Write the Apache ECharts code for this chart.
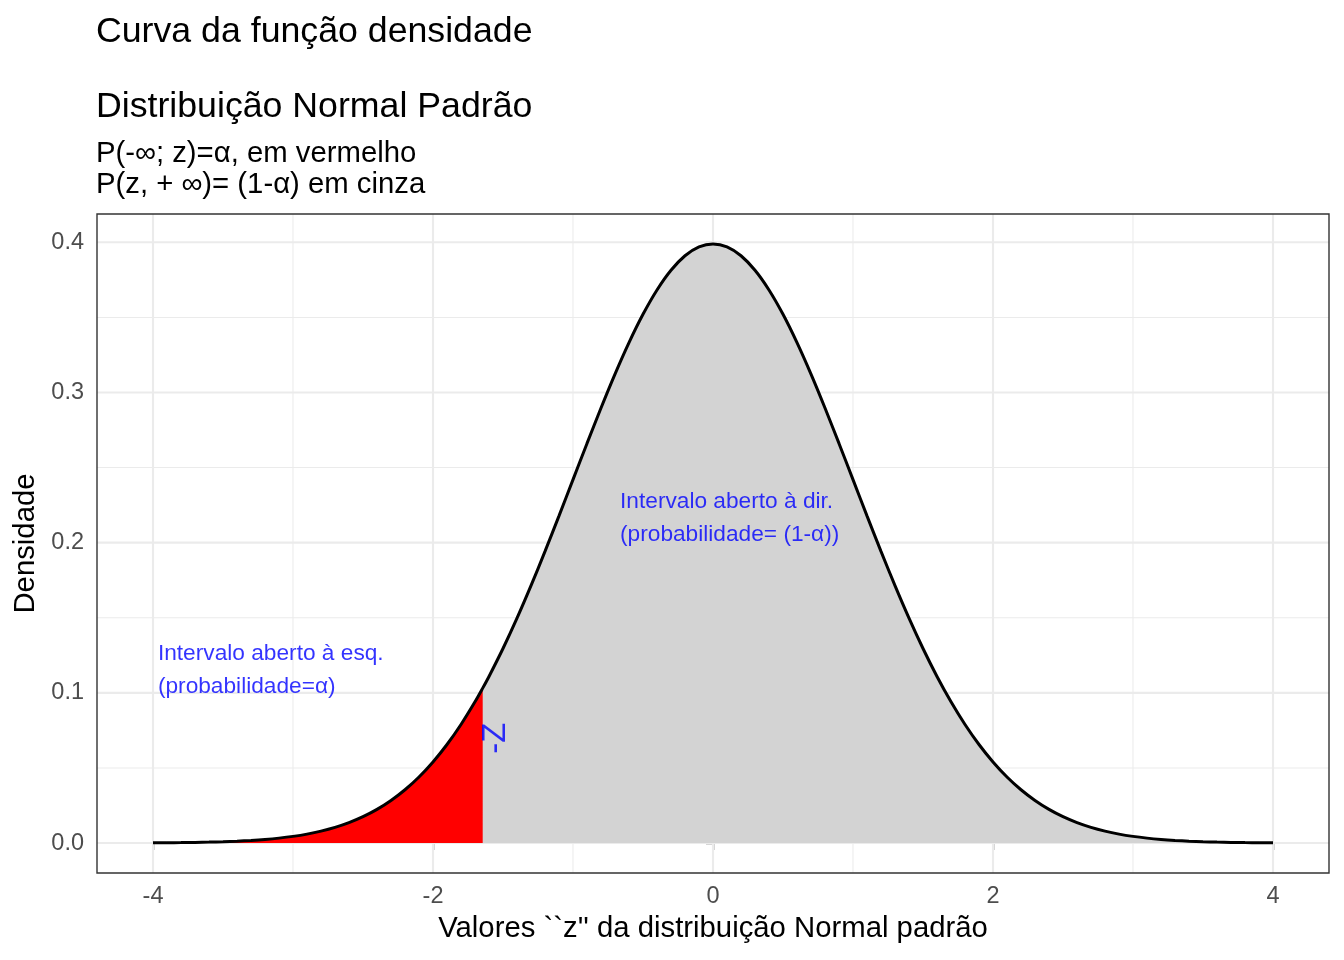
<!DOCTYPE html>
<html>
<head>
<meta charset="utf-8">
<script src="https://cdn.jsdelivr.net/npm/echarts@6/dist/echarts.min.js"></script>
<style>
html,body{margin:0;padding:0;background:#fff;}
#chart{width:1344px;height:960px;}
</style>
</head>
<body>
<div id="chart"></div>
<script>
// z grid (x values) and standard normal density
const zValues = [-4.0,-3.9,-3.8,-3.7,-3.6,-3.5,-3.4,-3.3,-3.2,-3.1,-3.0,-2.9,-2.8,-2.7,-2.6,-2.5,-2.4,-2.3,-2.2,-2.1,-2.0,-1.9,-1.8,-1.7,-1.645,-1.6,-1.5,-1.4,-1.3,-1.2,-1.1,-1.0,-0.9,-0.8,-0.7,-0.6,-0.5,-0.4,-0.3,-0.2,-0.1,0.0,0.1,0.2,0.3,0.4,0.5,0.6,0.7,0.8,0.9,1.0,1.1,1.2,1.3,1.4,1.5,1.6,1.7,1.8,1.9,2.0,2.1,2.2,2.3,2.4,2.5,2.6,2.7,2.8,2.9,3.0,3.1,3.2,3.3,3.4,3.5,3.6,3.7,3.8,3.9,4.0];
const densityValues = [0.00013,0.00020,0.00029,0.00042,0.00061,0.00087,0.00123,0.00172,0.00238,0.00327,0.00443,0.00595,0.00792,0.01042,0.01358,0.01753,0.02239,0.02833,0.03547,0.04398,0.05399,0.06562,0.07895,0.09405,0.10314,0.11092,0.12952,0.14973,0.17137,0.19419,0.21785,0.24197,0.26609,0.28969,0.31225,0.33322,0.35207,0.36827,0.38139,0.39104,0.39695,0.39894,0.39695,0.39104,0.38139,0.36827,0.35207,0.33322,0.31225,0.28969,0.26609,0.24197,0.21785,0.19419,0.17137,0.14973,0.12952,0.11092,0.09405,0.07895,0.06562,0.05399,0.04398,0.03547,0.02833,0.02239,0.01753,0.01358,0.01042,0.00792,0.00595,0.00443,0.00327,0.00238,0.00172,0.00123,0.00087,0.00061,0.00042,0.00029,0.00020,0.00013];
const zCut = -1.645;

const xTickLabels = [-4, -2, 0, 2, 4];
const xMinorBreaks = [-3, -1, 1, 3];
const yTickLabels = [0, 0.1, 0.2, 0.3, 0.4];
const yMinorBreaks = [0.05, 0.15, 0.25, 0.35];

const titleText = 'Curva da função densidade\n\nDistribuição Normal Padrão';
const subtitleText = 'P(-∞; z)=α, em vermelho\nP(z, + ∞)= (1-α) em cinza';
const xAxisTitle = "Valores ``z'' da distribuição Normal padrão";
const yAxisTitle = 'Densidade';

const annotations = [
  { x: -3.965, y: 0.1152, text: 'Intervalo aberto à esq.\n(probabilidade=α)' },
  { x: -0.664, y: 0.2160, text: 'Intervalo aberto à dir.\n(probabilidade= (1-α))' }
];
const cutLabel = { x: -1.55, y: 0.0699, text: '-Z' };

// build tables
const curve = zValues.map((z, i) => [z, densityValues[i]]);
const redArea = curve.filter(p => p[0] <= zCut + 1e-9);

const FONT = '"Liberation Sans", Arial, Helvetica, sans-serif';
const chart = echarts.init(document.getElementById('chart'), null, { renderer: 'canvas' });

const majorLine = { color: '#EBEBEB', width: 2.1, type: 'solid' };
const minorLine = { color: '#EBEBEB', width: 1.05, type: 'solid' };
const Y_MIN = -0.01995, Y_MAX = 0.41885, X_MIN = -4.4, X_MAX = 4.4;

function gridSeries(values, isX, style) {
  return values.map(v => ({
    type: 'line', z: 0, silent: true, showSymbol: false, animation: false,
    data: isX ? [[v, Y_MIN], [v, Y_MAX]] : [[X_MIN, v], [X_MAX, v]],
    lineStyle: style
  }));
}

const option = {
  backgroundColor: '#ffffff',
  animation: false,
  title: {
    text: titleText,
    subtext: subtitleText,
    left: 96,
    top: 13,
    padding: 0,
    itemGap: 12.5,
    textStyle: { fontFamily: FONT, fontSize: 35.7, fontWeight: 'normal', color: '#000', lineHeight: 37.5 },
    subtextStyle: { fontFamily: FONT, fontSize: 29.3, color: '#000', lineHeight: 31.5 }
  },
  grid: {
    left: 97, right: 15, top: 214, bottom: 87,
    show: true, borderColor: '#333333', borderWidth: 1.4, backgroundColor: 'transparent', z: 10
  },
  xAxis: {
    type: 'value', min: X_MIN, max: X_MAX,
    name: xAxisTitle, nameLocation: 'middle', nameGap: 41,
    nameTextStyle: { fontFamily: FONT, fontSize: 29.3, color: '#000' },
    axisLine: { show: false },
    splitLine: { show: false },
    axisTick: { show: true, customValues: xTickLabels, length: 7, lineStyle: { color: '#333333', width: 1.4 } },
    axisLabel: { customValues: xTickLabels, margin: 12, fontFamily: FONT, fontSize: 23.5, color: '#4D4D4D',
      formatter: v => String(v) }
  },
  yAxis: {
    type: 'value', min: Y_MIN, max: Y_MAX,
    name: yAxisTitle, nameLocation: 'middle', nameGap: 56, nameRotate: 90,
    nameTextStyle: { fontFamily: FONT, fontSize: 29.3, color: '#000' },
    axisLine: { show: false },
    splitLine: { show: false },
    axisTick: { show: true, customValues: yTickLabels, length: 7, lineStyle: { color: '#333333', width: 1.4 } },
    axisLabel: { customValues: yTickLabels, margin: 13, fontFamily: FONT, fontSize: 23.5, color: '#4D4D4D',
      formatter: v => v.toFixed(1) }
  },
  series: [
    ...gridSeries(xMinorBreaks, true, minorLine),
    ...gridSeries(yMinorBreaks, false, minorLine),
    ...gridSeries(xTickLabels, true, majorLine),
    ...gridSeries(yTickLabels, false, majorLine),
    {
      type: 'line', data: curve, z: 2, smooth: 0.3, showSymbol: false, silent: true,
      lineStyle: { width: 0 }, areaStyle: { color: '#D3D3D3', opacity: 1 }
    },
    {
      type: 'line', data: redArea, z: 3, smooth: 0.3, showSymbol: false, silent: true,
      lineStyle: { width: 0 }, areaStyle: { color: '#FF0000', opacity: 1 }
    },
    {
      type: 'line', data: curve, z: 4, smooth: 0.3, showSymbol: false, silent: true,
      lineStyle: { color: '#000000', width: 3 }
    },
    {
      type: 'scatter', z: 5, symbolSize: 0, silent: true,
      data: annotations.map(a => ({ value: [a.x, a.y], label: { formatter: a.text } })),
      label: { show: true, position: [0, 0], align: 'left', verticalAlign: 'middle',
        fontFamily: FONT, fontSize: 22.7, lineHeight: 33, color: '#0000FF' }
    },
    {
      type: 'scatter', z: 5, symbolSize: 0, silent: true,
      data: [{ value: [cutLabel.x, cutLabel.y], label: { formatter: cutLabel.text } }],
      label: { show: true, position: [0, 0], align: 'center', verticalAlign: 'middle', rotate: 90,
        fontFamily: FONT, fontSize: 33, color: '#0000FF' }
    }
  ]
};
chart.setOption(option);
</script>
</body>
</html>
